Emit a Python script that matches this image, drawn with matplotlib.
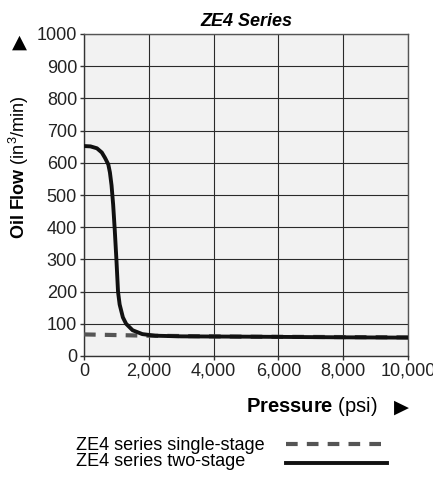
import matplotlib
matplotlib.use("Agg")
import matplotlib.pyplot as plt

plt.rcParams['font.family'] = ['Liberation Sans', 'DejaVu Sans']
plt.rcParams['mathtext.fontset'] = 'custom'
plt.rcParams['mathtext.rm'] = 'Liberation Sans'
plt.rcParams['mathtext.bf'] = 'Liberation Sans:bold'
plt.rcParams['mathtext.it'] = 'Liberation Sans:italic'

# two-stage curve (psi, in^3/min)
two_p = [0, 200, 400, 550, 650, 750, 800, 850, 900, 950, 1000, 1050, 1100,
         1200, 1300, 1500, 1800, 2200, 3000, 5000, 8000, 10000]
two_q = [652, 651, 645, 632, 615, 595, 570, 530, 470, 390, 300, 200, 160,
         120, 100, 80, 68, 63, 61, 60, 58, 57]

# single-stage curve
one_p = [0, 2000, 5000, 10000]
one_q = [67, 63, 60, 58]

series_names = ['ZE4 series single-stage', 'ZE4 series two-stage']
xticks = [0, 2000, 4000, 6000, 8000, 10000]
xlabels = ['0', '2,000', '4,000', '6,000', '8,000', '10,000']
yticks = list(range(0, 1001, 100))

W, H = 433, 479
fig = plt.figure(figsize=(W / 100, H / 100), dpi=100)
ax = fig.add_axes([84 / W, 1 - 356 / H, 324 / W, 322 / H])
ax.set_facecolor('#f2f2f2')

l1, = ax.plot(one_p, one_q, color='#555555', lw=3, ls=(0, (2.8, 2.2)),
              label=series_names[0], zorder=3)
l2, = ax.plot(two_p, two_q, color='#111111', lw=2.8,
              label=series_names[1], zorder=4)

ax.set_xlim(0, 10000)
ax.set_ylim(0, 1000)
ax.set_xticks(xticks)
ax.set_xticklabels(xlabels)
ax.set_yticks(yticks)
ax.grid(True, color='#2a2a2a', lw=0.8)
ax.set_axisbelow(True)
for s in ax.spines.values():
    s.set_color('#555555')
    s.set_linewidth(1)
ax.spines['left'].set_color('#333333')
ax.spines['bottom'].set_color('#333333')
ax.tick_params(direction='out', length=3, width=1, color='#333333',
               labelsize=13, labelcolor='#222222', pad=2)

ax.set_title('ZE4 Series', fontsize=13, fontweight='bold', style='italic', pad=6)

# axis labels with arrows
fig.text(19 / W, 1 - 95 / H, r'$\mathbf{Oil\ Flow}$ (in$^{3}$/min)', rotation=90,
         ha='center', va='top', fontsize=13)
fig.text(19.5 / W, 1 - 42 / H, '▲', ha='center', va='center', fontsize=14,
         family='DejaVu Sans')
fig.text(378 / W, 1 - 407 / H, r'$\mathbf{Pressure}$ (psi)', ha='right',
         va='center', fontsize=14.5)
fig.text(401 / W, 1 - 407 / H, '▶', ha='center', va='center', fontsize=14,
         family='DejaVu Sans')

# legend: labels on the left, line samples on the right
fig.text(76 / W, 1 - 445 / H, series_names[0], ha='left', va='center', fontsize=13)
fig.text(76 / W, 1 - 462 / H, series_names[1], ha='left', va='center', fontsize=13)
fig.legend(handles=[l1, l2], labels=['', ''], loc='center left',
           bbox_to_anchor=(286 / W, 1 - 455 / H), frameon=False,
           handlelength=5.6, fontsize=13, labelspacing=0.1, borderpad=0,
           handletextpad=0, borderaxespad=0)

fig.savefig('out.png', dpi=100)
